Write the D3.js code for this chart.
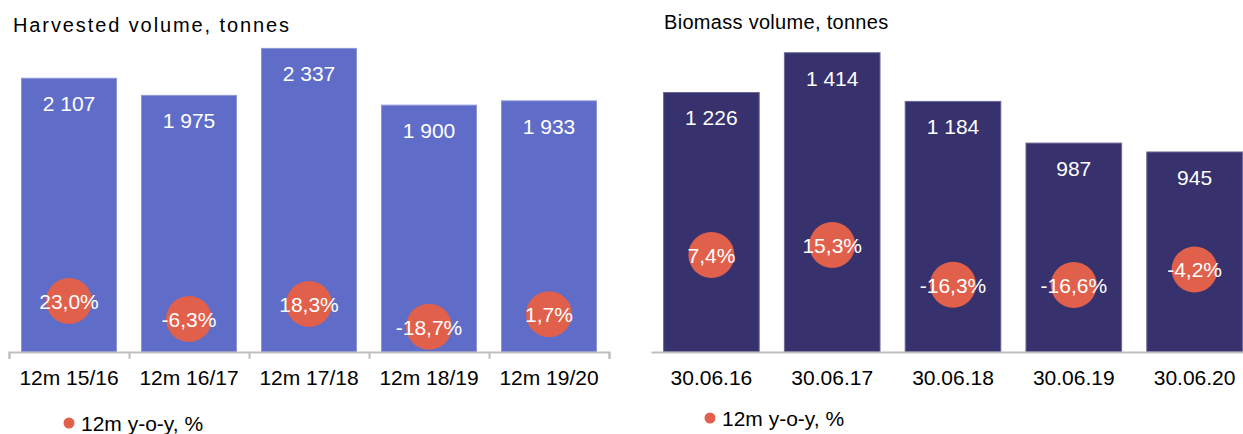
<!DOCTYPE html>
<html>
<head>
<meta charset="utf-8">
<script src="https://cdn.jsdelivr.net/npm/d3@7"></script>
<style>
	body { margin: 0; background: #fff; }
	svg { display: block; font-family: "Liberation Sans", Arial, sans-serif; }
	.axis text { font-size: 21px; fill: #000; }
</style>
</head>
<body>
<div id="chart"></div>
<script>
//Harvested volume (left)
const harvestCategories = ['12m 15/16', '12m 16/17', '12m 17/18', '12m 18/19', '12m 19/20'];
const harvestValues = [2107, 1975, 2337, 1900, 1933];
const harvestYoy = [23.0, -6.3, 18.3, -18.7, 1.7];

//Biomass volume (right)
const biomassCategories = ['30.06.16', '30.06.17', '30.06.18', '30.06.19', '30.06.20'];
const biomassValues = [1226, 1414, 1184, 987, 945];
const biomassYoy = [7.4, 15.3, -16.3, -16.6, -4.2];

const legendLabel = '12m y-o-y, %';

const W = 1243, H = 434;
const baseY = 352;

const svg = d3.select('#chart').append('svg')
	.attr('width', W)
	.attr('height', H);

//Norwegian-style number formatting: space thousands, comma decimals, plain hyphen minus
const locale = d3.formatLocale({
	decimal: ',',
	thousands: ' ',
	grouping: [3],
	currency: ['', ''],
	minus: '-'
});
const fmtNum = locale.format(',');
const fmtPct = function(v){ return locale.format('.1f')(v) + '%'; };

renderPanel({
	title: 'Harvested volume, tonnes',
	titleX: 13, titleY: 32, titleSpacing: '1.9px',
	categories: harvestCategories,
	values: harvestValues,
	yoy: harvestYoy,
	xRange: [9, 609],
	yMax: 2500, yTop: 27.2,
	yoyRange: [346, 284.4],
	barColor: '#5f6dc8', barStroke: '#8e97d6',
	boundaryTicks: true,
	legendX: 69, legendY: 423
});

renderPanel({
	title: 'Biomass volume, tonnes',
	titleX: 664, titleY: 29, titleSpacing: '0.3px',
	categories: biomassCategories,
	values: biomassValues,
	yoy: biomassYoy,
	xRange: [651, 1255],
	yMax: 1500, yTop: 34.5,
	yoyRange: [326.9, 201.5],
	barColor: '#37326e', barStroke: '#6c6896',
	boundaryTicks: false,
	legendX: 710, legendY: 418
});

function renderPanel(o){
	const g = svg.append('g');

	//Scales
	const x = d3.scaleBand()
		.domain(o.categories)
		.range(o.xRange)
		.paddingInner(0.2)
		.paddingOuter(0.1);

	const y = d3.scaleLinear()
		.domain([0, o.yMax])
		.range([baseY, o.yTop]);

	const yYoy = d3.scaleLinear()
		.domain([-50, 50])
		.range(o.yoyRange);

	//Title
	g.append('text')
		.attr('x', o.titleX)
		.attr('y', o.titleY)
		.style('font-size', '20px')
		.style('letter-spacing', o.titleSpacing)
		.style('fill', '#000')
		.text(o.title);

	//Bars
	g.selectAll('.bar')
		.data(o.values)
		.enter()
		.append('rect')
		.attr('class', 'bar')
		.attr('x', function(d, i){ return x(o.categories[i]) + 0.5 })
		.attr('y', function(d){ return y(d) })
		.attr('width', x.bandwidth() - 1)
		.attr('height', function(d){ return baseY - y(d) })
		.style('fill', o.barColor)
		.style('stroke', o.barStroke)
		.style('stroke-width', '1px');

	//Bar value labels
	g.selectAll('.bar-label')
		.data(o.values)
		.enter()
		.append('text')
		.attr('class', 'bar-label')
		.attr('x', function(d, i){ return x(o.categories[i]) + x.bandwidth()/2 })
		.attr('y', function(d){ return y(d) + 33 })
		.attr('text-anchor', 'middle')
		.style('font-size', '21px')
		.style('fill', '#fff')
		.text(fmtNum);

	//Axis: labels
	const axis = g.append('g')
		.attr('class', 'axis')
		.attr('transform', `translate(0,${baseY})`)
		.call(d3.axisBottom(x).tickSize(0).tickPadding(18));
	axis.select('.domain').remove();

	//Axis: line (+ boundary ticks on the left panel)
	const step = x.step();
	const x0 = x(o.categories[0]) - step*0.1;
	const xb = d3.scaleLinear()
		.domain([0, o.categories.length])
		.range([x0, x0 + step*o.categories.length]);

	const line = g.append('g')
		.attr('transform', `translate(0,${baseY})`)
		.call(d3.axisBottom(xb)
			.ticks(o.categories.length)
			.tickFormat('')
			.tickSizeOuter(o.boundaryTicks ? 7 : 0)
			.tickSizeInner(o.boundaryTicks ? 7 : 0));
	line.selectAll('path, line')
		.style('stroke', '#bfbfbf')
		.style('stroke-width', '2px');

	//YoY bubbles
	const bubbles = g.selectAll('.yoy')
		.data(o.yoy)
		.enter()
		.append('g')
		.attr('class', 'yoy')
		.attr('transform', function(d, i){
			return `translate(${x(o.categories[i]) + x.bandwidth()/2},${yYoy(d)})`;
		});

	bubbles.append('circle')
		.attr('r', 23)
		.style('fill', '#e0604b');

	bubbles.append('text')
		.attr('text-anchor', 'middle')
		.attr('dy', '0.38em')
		.style('font-size', '21px')
		.style('fill', '#fff')
		.text(fmtPct);

	//Legend
	const legend = g.append('g')
		.attr('transform', `translate(${o.legendX},${o.legendY})`);
	legend.append('circle')
		.attr('r', 5.5)
		.style('fill', '#e0604b');
	legend.append('text')
		.attr('x', 12)
		.attr('dy', '0.36em')
		.style('font-size', '21px')
		.style('fill', '#000')
		.text(legendLabel);
}
</script>
</body>
</html>
